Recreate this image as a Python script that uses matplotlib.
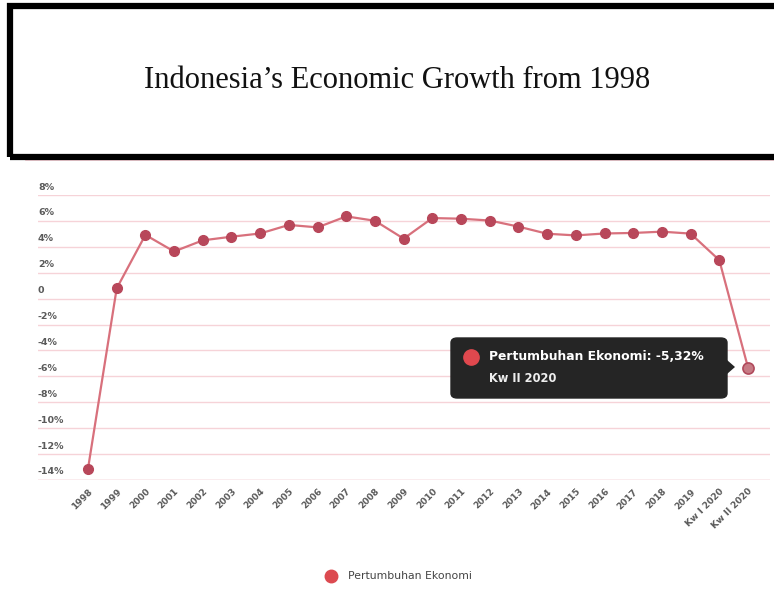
import matplotlib
matplotlib.use("Agg")
import matplotlib.pyplot as plt
import matplotlib.transforms as mtransforms
from matplotlib.patches import Rectangle, FancyBboxPatch
from matplotlib.lines import Line2D

title = "Indonesia\u2019s Economic Growth from 1998"
categories = ["1998", "1999", "2000", "2001", "2002", "2003", "2004", "2005",
              "2006", "2007", "2008", "2009", "2010", "2011", "2012", "2013",
              "2014", "2015", "2016", "2017", "2018", "2019", "Kw I 2020", "Kw II 2020"]
growth = [-13.13, 0.79, 4.92, 3.64, 4.50, 4.78, 5.03, 5.69, 5.50, 6.35, 6.01, 4.63,
          6.22, 6.17, 6.03, 5.56, 5.01, 4.88, 5.03, 5.07, 5.17, 5.02, 2.97, -5.32]
ytick_vals = [8, 6, 4, 2, 0, -2, -4, -6, -8, -10, -12, -14]
ytick_labels = ["8%", "6%", "4%", "2%", "0", "-2%", "-4%", "-6%", "-8%", "-10%", "-12%", "-14%"]
series_name = "Pertumbuhan Ekonomi"
tooltip_value = "-5,32%"
tooltip_cat = "Kw II 2020"

W, H = 774, 598
fig = plt.figure(figsize=(W / 100, H / 100), dpi=100)
fig.patch.set_facecolor("white")

def px(x, y):
    return x / W, 1 - y / H

# Title box
fig.patches.append(Rectangle(px(10, 157), (W + 10 - 10) / W, (157 - 6) / H,
                             transform=fig.transFigure, fill=False,
                             edgecolor="black", linewidth=4.5, zorder=5))
fig.lines.append(Line2D([26 / W, 1], [1 - 160 / H] * 2, transform=fig.transFigure,
                        color="#f4c9cf", linewidth=1.2))
fig.text(397 / W, 1 - 80 / H, title, ha="center", va="center",
         family="Liberation Serif", fontsize=22, color="#111111")

# Axes
left, right = 38, 770
top, bottom = 195, 480
ax = fig.add_axes([left / W, 1 - bottom / H, (right - left) / W, (bottom - top) / H])
x = list(range(len(categories)))
step = (748 - 88) / (len(categories) - 1)
ax.set_xlim(-(88 - left) / step, (len(categories) - 1) + (right - 748) / step)
ax.set_ylim(-14, 8)
for s in ax.spines.values():
    s.set_visible(False)
ax.set_yticks(ytick_vals)
ax.yaxis.grid(True, color="#f6d3d8", linewidth=1.0)
ax.set_axisbelow(True)
ax.tick_params(axis="y", length=0, labelleft=False)
ax.tick_params(axis="x", length=0)
ax.axhline(-14, color="#efc4ca", linewidth=1.0, zorder=1)

# y labels (placed above gridline, left aligned)
off = mtransforms.ScaledTranslation(0, 8 / 100, fig.dpi_scale_trans)
ytrans = ax.get_yaxis_transform()
for v, lab in zip(ytick_vals, ytick_labels):
    ax.text(0.0, v, lab, transform=ytrans + off, ha="left", va="center",
            fontsize=6.8, color="#5a5a5a", fontweight="bold")

ax.set_xticks(x)
ax.set_xticklabels(categories, rotation=45, ha="right", va="top",
                   rotation_mode="anchor", fontsize=6.5, color="#5a5a5a",
                   fontweight="bold")
for lbl in ax.get_xticklabels():
    lbl.set_transform(lbl.get_transform() + mtransforms.ScaledTranslation(6 / 100, -2 / 100, fig.dpi_scale_trans))
ax.tick_params(axis="x", pad=5)

ax.plot(x, growth, color="#d8707c", linewidth=1.6, zorder=3, clip_on=False)
ax.plot(x[:-1], growth[:-1], linestyle="none", marker="o", markersize=7,
        color="#b8475a", zorder=4, clip_on=False)
ax.plot(x[-1:], growth[-1:], linestyle="none", marker="o", markersize=8,
        markerfacecolor="#c77b85", markeredgecolor="#b04a5c", markeredgewidth=1.2,
        zorder=4, clip_on=False)

# Tooltip
tb = FancyBboxPatch(px(451, 398), (727 - 451) / W, (398 - 338) / H,
                    boxstyle="round,pad=0,rounding_size=0.008",
                    transform=fig.transFigure, facecolor="#252525",
                    edgecolor="#252525", zorder=10)
fig.patches.append(tb)
fig.patches.append(plt.Polygon([px(727, 360), px(735, 367), px(727, 374)],
                               closed=True, transform=fig.transFigure,
                               facecolor="#252525", edgecolor="none", zorder=10))
fig.lines.append(Line2D([471 / W], [1 - 357 / H], transform=fig.transFigure,
                        marker="o", markersize=11, color="#e0484e", zorder=11))
fig.text(489 / W, 1 - 357 / H, f"{series_name}: {tooltip_value}", ha="left",
         va="center", fontsize=8.9, fontweight="bold", color="white", zorder=12)
fig.text(489 / W, 1 - 378 / H, tooltip_cat, ha="left", va="center",
         fontsize=8.3, fontweight="bold", color="#eeeeee", zorder=12)

# Legend
fig.lines.append(Line2D([331 / W], [1 - 576 / H], transform=fig.transFigure,
                        marker="o", markersize=9, color="#dc4a50"))
fig.text(348 / W, 1 - 576 / H, series_name, ha="left", va="center",
         fontsize=7.8, color="#444444")

fig.savefig("out.png", dpi=100)
